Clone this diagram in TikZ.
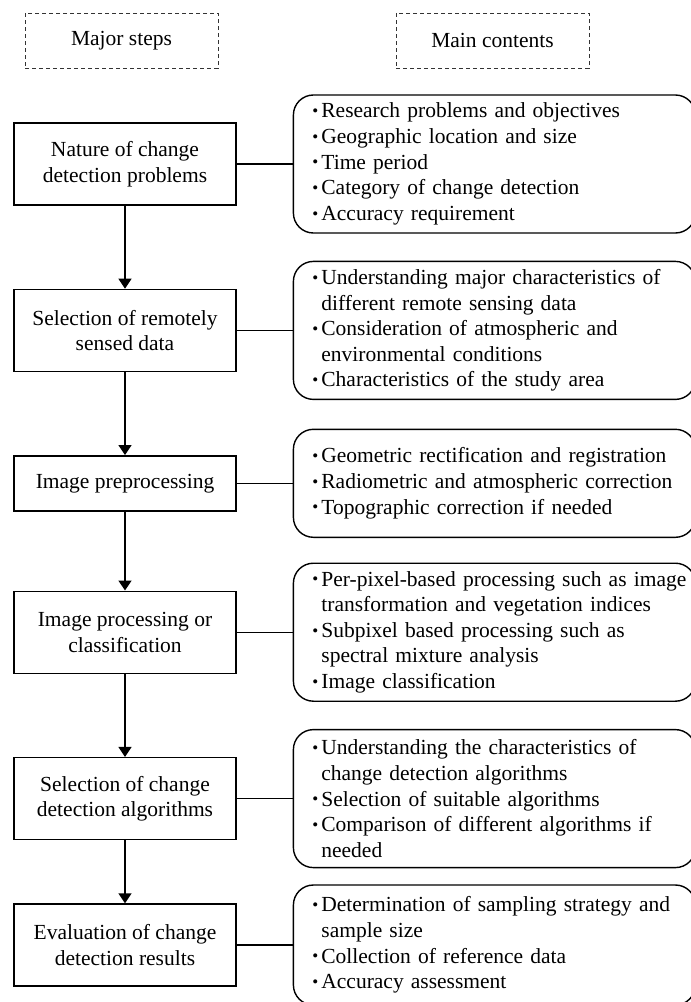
\documentclass[tikz,border=0pt]{standalone}
\usepackage{fontspec}
\setmainfont{Liberation Serif}
\usepackage{tikz}
\usetikzlibrary{arrows.meta, positioning}

\newcommand{\bl}{\hspace*{9.5pt}\makebox[4.5pt][l]{\raisebox{0.6pt}{\fontsize{8.5}{8.5}\selectfont\textbullet}}}
\newcommand{\ind}{\hspace*{14pt}}

\begin{document}
\begin{tikzpicture}[->,>={Triangle[length=5pt,width=6.5pt]},line width=0.7pt,node distance=41.5pt,x=0.5pt,y=-0.5pt,font=\fontsize{10.75}{12.8}\selectfont]
	\tikzset{stepbox/.style={draw, minimum width=111pt, minimum height=41pt, align=center, inner sep=2pt},
		listbox/.style={draw, rounded corners=10pt, minimum height=69pt, text width=201pt, inner xsep=0pt, align=left},
		headbox/.style={draw=black!80, line width=0.5pt, dash pattern=on 2pt off 1.5pt, minimum width=96.5pt, minimum height=27.5pt}}
	\useasboundingbox (0,0) rectangle (691,1002);
	\node[headbox] (h1) at (121.5,40.5) {Major steps};
	\node[headbox] (h2) [right=88.5pt of h1] {Main contents};
	\node[stepbox] (s1) at (125,164) {Nature of change\\detection problems};
	\node[stepbox] (s2) [below=of s1] {Selection of remotely\\sensed data};
	\node[stepbox, minimum height=27.5pt] (s3) [below=of s2] {Image preprocessing};
	\node[stepbox] (s4) [below=39.5pt of s3] {Image processing or\\classification};
	\node[stepbox] (s5) [below=of s4] {Selection of change\\detection algorithms};
	\node[stepbox] (s6) [below=31.5pt of s5] {Evaluation of change\\detection results};
	\node[listbox] (c1) [right=28pt of s1] {\bl Research problems and objectives\\
		\bl Geographic location and size\\
		\bl Time period\\
		\bl Category of change detection\\
		\bl Accuracy requirement};
	\node[listbox] (c2) [right=28pt of s2] {\bl Understanding major characteristics of\\
		\ind different remote sensing data\\
		\bl Consideration of atmospheric and\\
		\ind environmental conditions\\
		\bl Characteristics of the study area};
	\node[listbox, minimum height=54pt] (c3) [right=28pt of s3] {\bl Geometric rectification and registration\\
		\bl Radiometric and atmospheric correction\\
		\bl Topographic correction if needed};
	\node[listbox] (c4) [right=28pt of s4] {\bl Per-pixel-based processing such as image\\
		\ind transformation and vegetation indices\\
		\bl Subpixel based processing such as\\
		\ind spectral mixture analysis\\
		\bl Image classification};
	\node[listbox] (c5) [right=28pt of s5] {\bl Understanding the characteristics of\\
		\ind change detection algorithms\\
		\bl Selection of suitable algorithms\\
		\bl Comparison of different algorithms if\\
		\ind needed};
	\node[listbox, minimum height=60pt] (c6) [right=28pt of s6] {\bl Determination of sampling strategy and\\
		\ind sample size\\
		\bl Collection of reference data\\
		\bl Accuracy assessment};
	\path
		(s1) edge (s2)
		(s2) edge (s3)
		(s3) edge (s4)
		(s4) edge (s5)
		(s5) edge (s6);
	\path[-]
		(s1) edge (c1)
		(s2) edge (c2)
		(s3) edge (c3)
		(s4) edge (c4)
		(s5) edge (c5)
		(s6) edge (c6);
\end{tikzpicture}
\end{document}
